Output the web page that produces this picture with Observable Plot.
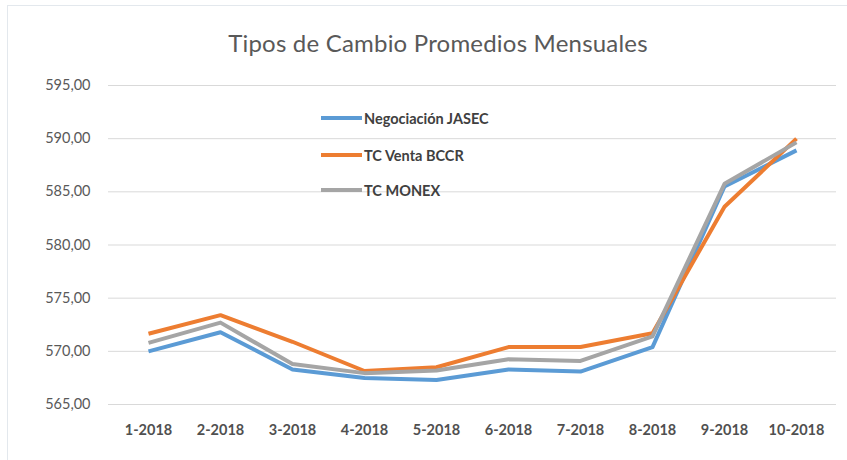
<!DOCTYPE html>
<html>
<head>
<meta charset="utf-8">
<script src="https://cdn.jsdelivr.net/npm/d3@7"></script>
<script src="https://cdn.jsdelivr.net/npm/@observablehq/plot@0.6"></script>
<style>
  body { margin: 0; background: #fff; }
  #wrap { position: relative; width: 847px; height: 460px; overflow: hidden; font-family: Lato, "Open Sans", sans-serif; }
  #frame { position: absolute; left: 7px; top: 5px; width: 850px; height: 470px; border-left: 1px solid #e3e8ed; border-top: 1px solid #e3e8ed; }
  #title { position: absolute; left: 0; width: 876px; top: 28px; text-align: center; font-size: 24px; color: #595959; letter-spacing: 0.2px; }
  #chart { position: absolute; left: 0; top: 65px; }
  #legend { position: absolute; left: 321px; top: 108px; font-weight: bold; font-size: 14.5px; color: #404040; }
  .item { display: flex; align-items: center; height: 20px; position: absolute; white-space: nowrap; }
  .sw { width: 41px; height: 4px; margin-right: 2px; }
</style>
</head>
<body>
<div id="wrap">
  <div id="frame"></div>
  <div id="title">Tipos de Cambio Promedios Mensuales</div>
  <div id="chart"></div>
  <div id="legend"></div>
</div>
<script>
const months = ["1-2018","2-2018","3-2018","4-2018","5-2018","6-2018","7-2018","8-2018","9-2018","10-2018"];
const seriesNames = ["Negociación JASEC","TC Venta BCCR","TC MONEX"];
const seriesColors = ["#5B9BD5","#ED7D31","#A5A5A5"];
const jasec = [570.0, 571.8, 568.3, 567.5, 567.3, 568.3, 568.1, 570.4, 585.5, 588.9];
const bccr  = [571.65, 573.4, 570.9, 568.15, 568.5, 570.4, 570.4, 571.7, 583.6, 590.0];
const monex = [570.8, 572.7, 568.8, 567.95, 568.2, 569.25, 569.1, 571.4, 585.75, 589.65];
const yTicks = [565, 570, 575, 580, 585, 590, 595];

const values = [jasec, bccr, monex];
const rows = [];
values.forEach((arr, s) => arr.forEach((v, i) => rows.push({series: seriesNames[s], month: months[i], value: v})));

const fmt = d => d.toFixed(2).replace(".", ",");

const chart = Plot.plot({
  width: 847,
  height: 395,
  marginTop: 20,
  marginBottom: 56,
  marginLeft: 108,
  marginRight: 11,
  style: { fontFamily: "Lato, 'Open Sans', sans-serif", background: "transparent" },
  x: { type: "point", domain: months, padding: 0.5, label: null },
  y: { domain: [565, 595], label: null },
  color: { domain: seriesNames, range: seriesColors },
  marks: [
    Plot.gridY(yTicks, { stroke: "#d9d9d9", strokeOpacity: 1, strokeWidth: 1 }),
    Plot.axisY(yTicks, { tickSize: 0, tickPadding: 18, tickFormat: fmt, fontSize: 14.5, fill: "#595959" }),
    Plot.axisX(months, { tickSize: 0, tickPadding: 20, fontSize: 14.5, fontWeight: "bold", fill: "#505050" }),
    Plot.line(rows, { x: "month", y: "value", z: "series", stroke: "series", strokeWidth: 4, strokeLinejoin: "round", strokeLinecap: "butt" })
  ]
});
document.getElementById("chart").appendChild(chart);

const legend = document.getElementById("legend");
const tops = [0, 37, 72];
seriesNames.forEach((name, i) => {
  const it = document.createElement("div");
  it.className = "item";
  it.style.top = tops[i] + "px";
  it.innerHTML = `<span class="sw" style="background:${seriesColors[i]}"></span><span>${name}</span>`;
  legend.appendChild(it);
});
</script>
</body>
</html>
